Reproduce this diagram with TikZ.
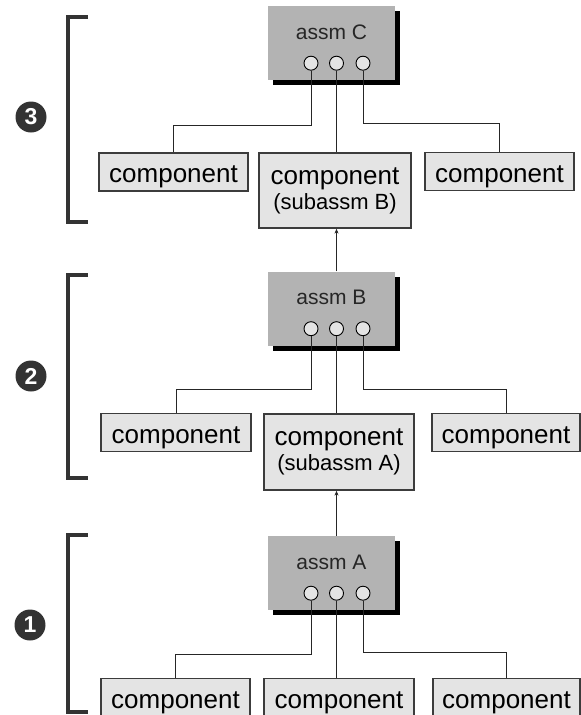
\documentclass[tikz,border=0pt]{standalone}
\usepackage{fontspec}
\setsansfont{Liberation Sans}
\usepackage{tikz}
\usetikzlibrary{positioning,arrows.meta,calc,shadows}
\definecolor{AsmGray}{HTML}{B3B3B3}
\definecolor{CompFill}{HTML}{E4E4E4}
\definecolor{EdgeGray}{HTML}{3C3C3C}
\definecolor{MarkDark}{HTML}{333333}

\begin{document}
\begin{tikzpicture}[
    x=1pt, y=-1pt,
    assmbox/.style={
      fill=AsmGray,
      minimum width=127pt,
      minimum height=74pt,
      inner sep=0pt,
      drop shadow={shadow xshift=5pt, shadow yshift=-5pt, fill=black, opacity=1}
    },
    assmtitle/.style={
      inner sep=0pt,
      text=black!85,
      font=\sffamily\fontsize{21}{23}\selectfont
    },
    portdot/.style={
      circle,
      draw=black,
      line width=0.9pt,
      fill=CompFill,
      minimum size=14pt,
      inner sep=0pt
    },
    compbox/.style={
      draw=EdgeGray,
      fill=CompFill,
      line width=1.3pt,
      minimum width=150pt,
      minimum height=38pt,
      inner sep=0pt,
      text height=26pt,
      text depth=5pt,
      font=\sffamily\fontsize{26}{27}\selectfont
    },
    subbox/.style={
      draw=EdgeGray,
      fill=CompFill,
      line width=1.3pt,
      minimum width=150pt,
      minimum height=76pt,
      inner sep=0pt,
      align=center,
      font=\sffamily\fontsize{26}{25}\selectfont
    },
    wire/.style={
      line width=1pt,
      black!85
    },
    feedarrow/.style={
      -{Stealth[length=5pt,width=4pt]},
      line width=1pt,
      black!85
    },
    levelbrace/.style={
      line width=4pt,
      MarkDark
    },
    levelnum/.style={
      circle,
      fill=MarkDark,
      minimum size=31pt,
      inner sep=0pt,
      text=white,
      font=\sffamily\bfseries\fontsize{23}{23}\selectfont
    }
  ]

  \useasboundingbox (0,0) rectangle (581,715);

  % level 3
  \node[assmbox] (asmC) at (331.5,43) {};
  \node[assmtitle] (asmCname) at ($(asmC.north)+(0,26.5)$) {assm C};
  \node[portdot] (pC1) at ($(asmC.south)+(-20.5,-17)$) {};
  \node[portdot] (pC2) at ($(asmC.south)+(5,-17)$) {};
  \node[portdot] (pC3) at ($(asmC.south)+(31.5,-17)$) {};
  \node[compbox, minimum width=149pt] (cC1) at (173.5,172) {component};
  \node[subbox, minimum width=152pt, minimum height=75pt] (cC2) at (335,190.5) {component\\{\fontsize{22}{24}\selectfont(subassm B)}};
  \node[compbox, minimum width=149pt] (cC3) at (499.5,171.5) {component};

  \draw[wire] (pC1.south) |- ($(cC1.north)+(0,-27)$) -- (cC1.north);
  \draw[wire] (pC2.south) -- (pC2.south |- cC2.north);
  \draw[wire] (pC3.south) |- ($(cC3.north)+(0,-28)$) -- (cC3.north);

  \draw[levelbrace] (88,17) -- (68,17) -- (68,222) -- (88,222);
  \node[levelnum] (num3) at (31,117) {3};

  % level 2
  \node[assmbox] (asmB) at (331.5,308.5) {};
  \node[assmtitle] (asmBname) at ($(asmB.north)+(0,26.5)$) {assm B};
  \node[portdot] (pB1) at ($(asmB.south)+(-20.5,-17)$) {};
  \node[portdot] (pB2) at ($(asmB.south)+(5,-17)$) {};
  \node[portdot] (pB3) at ($(asmB.south)+(31.5,-17)$) {};
  \node[compbox] (cB1) at (176,432.5) {component};
  \node[subbox] (cB2) at (339,452) {component\\{\fontsize{22}{24}\selectfont(subassm A)}};
  \node[compbox, minimum width=148pt] (cB3) at (506,432.5) {component};

  \draw[wire] (pB1.south) |- ($(cB1.north)+(0,-23)$) -- (cB1.north);
  \draw[wire] (pB2.south) -- (pB2.south |- cB2.north);
  \draw[wire] (pB3.south) |- ($(cB3.north)+(0,-23)$) -- (cB3.north);
  \draw[feedarrow] (pB2 |- asmB.north) -- (pB2 |- cC2.south);

  \draw[levelbrace] (88,275) -- (68,275) -- (68,478) -- (88,478);
  \node[levelnum] (num2) at (31,376) {2};

  % level 1
  \node[assmbox] (asmA) at (331.5,573) {};
  \node[assmtitle] (asmAname) at ($(asmA.north)+(0,26.5)$) {assm A};
  \node[portdot] (pA1) at ($(asmA.south)+(-20.5,-17)$) {};
  \node[portdot] (pA2) at ($(asmA.south)+(5,-17)$) {};
  \node[portdot] (pA3) at ($(asmA.south)+(31.5,-17)$) {};
  \node[compbox, minimum width=149pt] (cA1) at (175.5,697.5) {component};
  \node[compbox] (cA2) at (339,697.5) {component};
  \node[compbox, minimum width=147pt] (cA3) at (506.5,697.5) {component};

  \draw[wire] (pA1.south) |- ($(cA1.north)+(0,-23)$) -- (cA1.north);
  \draw[wire] (pA2.south) -- (pA2.south |- cA2.north);
  \draw[wire] (pA3.south) |- ($(cA3.north)+(0,-25)$) -- (cA3.north);
  \draw[feedarrow] (pA2 |- asmA.north) -- (pA2 |- cB2.south);

  \draw[levelbrace] (88,535) -- (68,535) -- (68,712) -- (88,712);
  \node[levelnum] (num1) at (30,625) {1};

\end{tikzpicture}
\end{document}
